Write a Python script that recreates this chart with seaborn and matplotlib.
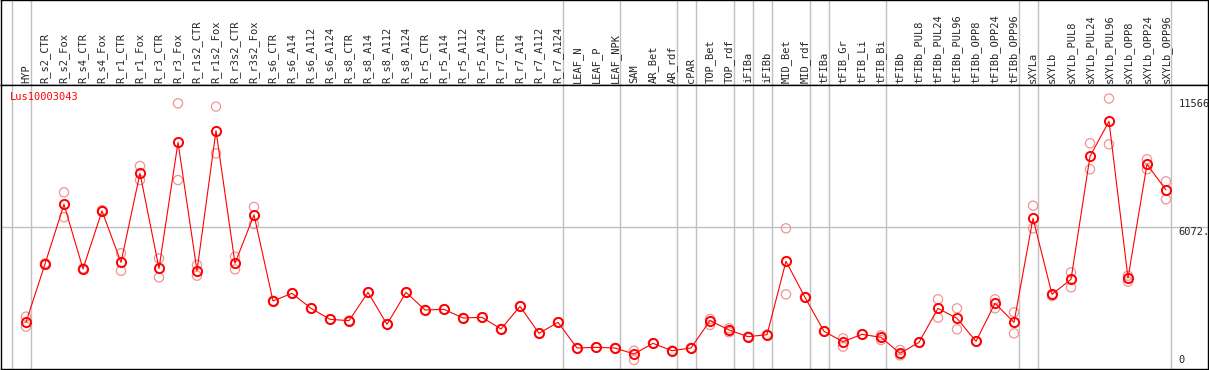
import numpy as np
import pandas as pd
import matplotlib
matplotlib.use("Agg")
import matplotlib.pyplot as plt
import seaborn as sns

# Muestras (columnas) del gráfico
samples = [
    "HYP", "R_s2_CTR", "R_s2_Fox", "R_s4_CTR", "R_s4_Fox", "R_r1_CTR", "R_r1_Fox",
    "R_r3_CTR", "R_r3_Fox", "R_r1s2_CTR", "R_r1s2_Fox", "R_r3s2_CTR", "R_r3s2_Fox",
    "R_s6_CTR", "R_s6_A14", "R_s6_A112", "R_s6_A124", "R_s8_CTR", "R_s8_A14",
    "R_s8_A112", "R_s8_A124", "R_r5_CTR", "R_r5_A14", "R_r5_A112", "R_r5_A124",
    "R_r7_CTR", "R_r7_A14", "R_r7_A112", "R_r7_A124", "LEAF_N", "LEAF_P", "LEAF_NPK",
    "SAM", "AR_Bet", "AR_rdf", "cPAR", "TOP_Bet", "TOP_rdf", "iFIBa", "iFIBb",
    "MID_Bet", "MID_rdf", "tFIBa", "tFIB_Gr", "tFIB_Li", "tFIB_Bi", "tFIBb",
    "tFIBb_PUL8", "tFIBb_PUL24", "tFIBb_PUL96", "tFIBb_OPP8", "tFIBb_OPP24",
    "tFIBb_OPP96", "sXYLa", "sXYLb", "sXYLb_PUL8", "sXYLb_PUL24", "sXYLb_PUL96",
    "sXYLb_OPP8", "sXYLb_OPP24", "sXYLb_OPP96",
]

# Media de expresión por muestra
means = [
    2000, 4490, 7040, 4280, 6760, 4560, 8370, 4300, 9690, 4200, 10190, 4520, 6590,
    2910, 3235, 2594, 2124, 2067, 3278, 1910, 3278, 2523, 2551, 2181, 2209,
    1710, 2680, 1525, 1997, 898, 926, 898,
    641, 1097, 784, 898, 2067, 1668, 1382, 1468,
    4605, 3064, 1611, 1168, 1482, 1354, 670,
    1140, 2594, 2166, 1183, 2808, 1997,
    6443, 3193, 3835, 9095, 10592, 3891, 8753, 7654,
]

# Réplicas (alta y baja)
rep_hi = [
    2240, 4520, 7555, 4300, 6790, 4950, 8680, 4730, 11360, 4450, 11220, 4800, 6930,
    2910, 3235, 2594, 2124, 2067, 3278, 1910, 3278, 2523, 2551, 2181, 2209,
    1710, 2680, 1525, 1997, 898, 926, 898,
    784, 1097, 784, 898, 2138, 1739, 1382, 1468,
    6015, 3064, 1611, 1311, 1482, 1440, 812,
    1140, 2979, 2594, 1183, 2979, 2423,
    6984, 3122, 4134, 9651, 11566, 3990, 8967, 8025,
]
rep_lo = [
    1810, 4460, 6490, 4260, 6730, 4200, 8080, 3920, 8080, 3990, 9220, 4260, 6200,
    2910, 3235, 2594, 2124, 2067, 3278, 1910, 3278, 2523, 2551, 2181, 2209,
    1710, 2680, 1525, 1997, 898, 926, 898,
    385, 1097, 784, 898, 1881, 1568, 1382, 1468,
    3193, 3064, 1611, 955, 1482, 1240, 584,
    1140, 2195, 1696, 1183, 2594, 1525,
    6015, 3193, 3493, 8539, 9608, 3735, 8539, 7256,
]

# Índices tras los que va una línea de grupo
group_ends = [-1, 0, 28, 31, 34, 35, 37, 38, 39, 41, 42, 45, 52, 53, 60]

gene = "Lus10003043"
max_val = 11566
y_top = max_val * 1.05

sns.set_style("white")
plt.rcParams["font.family"] = ["DejaVu Sans Mono", "DejaVu Sans"]

W, H = 1209, 370
fig = plt.figure(figsize=(W / 100, H / 100), dpi=100)

# ejes: cabecera (0-85 px) y gráfico (85-369 px)
ax_h = fig.add_axes([1 / W, (H - 85) / H, 1207 / W, 85 / H])
ax = fig.add_axes([1 / W, (H - 369) / H, 1207 / W, 284 / H], sharex=ax_h)

xs = np.arange(len(samples))
df = pd.DataFrame({"x": xs, "mean": means, "hi": rep_hi, "lo": rep_lo})
reps = pd.concat([df[["x", "hi"]].rename(columns={"hi": "v"}),
                  df[["x", "lo"]].rename(columns={"lo": "v"})])

grey = "#c0c0c0"
for g in group_ends:
    ax.axvline(g + 0.25, color=grey, lw=1, zorder=0)
    ax_h.axvline(g + 0.25, color=grey, lw=1, zorder=0)
ax.axhline(y_top / 2, color=grey, lw=1, zorder=0)

sns.scatterplot(data=reps, x="x", y="v", ax=ax, marker="o", s=44,
                facecolors="none", edgecolor="#f09494", linewidth=0.9, zorder=2)
sns.lineplot(data=df, x="x", y="mean", ax=ax, color="red", lw=0.8, sort=False,
             marker="o", ms=6.6, mfc="none", mec="red", mew=1.4, zorder=3)

ax.set_xlim((1 - 26) / 19, (1208 - 26) / 19)
ax.set_ylim(0, y_top)
ax.set_xticks([])
ax.set_yticks([])
ax.set_xlabel("")
ax.set_ylabel("")

# etiquetas de la escala a la derecha
ytr = ax.get_yaxis_transform()
ax.text(0.9755, max_val, f"{max_val}", transform=ytr, fontsize=7.5, va="top", ha="left")
ax.text(0.9755, y_top / 2, "6072.", transform=ytr, fontsize=7.5, va="top", ha="left")
ax.text(0.9755, 180, "0", transform=ytr, fontsize=7.5, va="bottom", ha="left")
ax.text(0.0075, 0.975, gene, transform=ax.transAxes, color="red", fontsize=7.5,
        va="top", ha="left")

# cabecera con nombres de muestras
ax_h.set_ylim(85, 0)
ax_h.set_yticks([])
for i, name in enumerate(samples):
    ax_h.text(i, 83, name, rotation=90, ha="center", va="bottom", fontsize=7.5)
ax_h.tick_params(labelbottom=False, bottom=False)

for a in (ax, ax_h):
    for s in a.spines.values():
        s.set_color("black")
        s.set_linewidth(1)
        s.set_visible(True)

fig.savefig("out.png", dpi=100)
